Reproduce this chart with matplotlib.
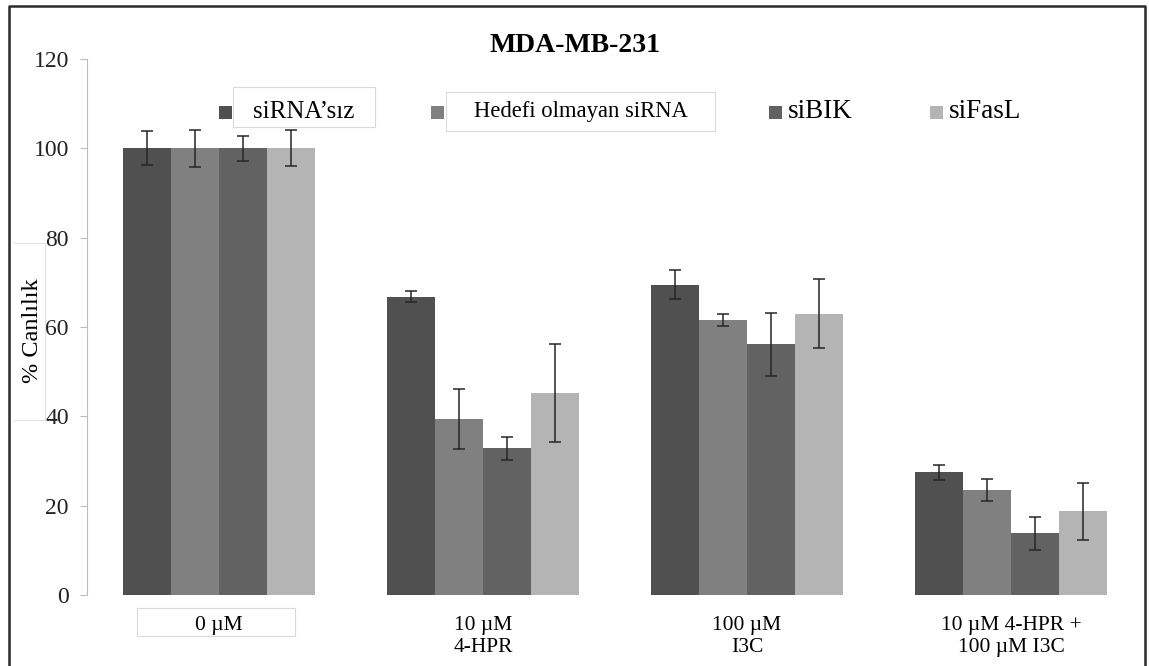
import numpy as np
import matplotlib.pyplot as plt
from matplotlib.patches import Rectangle

plt.rcParams['font.family'] = ['Liberation Serif', 'DejaVu Serif']

# data
groups = ['0 \u00b5M', '10 \u00b5M\n4-HPR', '100 \u00b5M\nI3C', '10 \u00b5M 4-HPR +\n100 \u00b5M I3C']
series = ['siRNA\u2019s\u0131z', 'Hedefi olmayan siRNA', 'siBIK', 'siFasL']
no_sirna = [100, 66.8, 69.5, 27.5]
nontarget = [100, 39.4, 61.6, 23.5]
sibik = [100, 32.8, 56.1, 13.8]
sifasl = [100, 45.2, 63.0, 18.7]
no_sirna_err = [3.8, 1.3, 3.3, 1.7]
nontarget_err = [4.2, 6.7, 1.4, 2.4]
sibik_err = [2.8, 2.6, 7.0, 3.7]
sifasl_err = [4.0, 10.9, 7.8, 6.4]

colors = ['#505050', '#808080', '#626262', '#b4b4b4']
W, H = 1149, 666


def px(x, y):
    # figure pixel (from top-left) -> figure fraction
    return x / W, 1 - y / H


fig = plt.figure(figsize=(W / 100, H / 100), dpi=100)
ax = fig.add_axes([87 / W, 1 - 595 / H, (1143 - 87) / W, 536 / H])
ax.patch.set_visible(False)

values = [no_sirna, nontarget, sibik, sifasl]
errors = [no_sirna_err, nontarget_err, sibik_err, sifasl_err]
x = np.arange(len(groups))
bw = 0.182
for i in range(4):
    ax.bar(x + (i - 1.5) * bw, values[i], bw, color=colors[i], zorder=2)
    ax.errorbar(x + (i - 1.5) * bw, values[i], yerr=errors[i], fmt='none',
                ecolor='#262626', elinewidth=1.1, capsize=4.5, capthick=1.1, zorder=3)

ax.set_xlim(-0.5, 3.5)
ax.set_ylim(0, 120)
ax.set_yticks(np.arange(0, 121, 20))
ax.set_xticks(x)
ax.set_xticklabels(groups, fontsize=15.5, linespacing=1.25)
ax.tick_params(axis='x', length=0, pad=15)
ax.tick_params(axis='y', labelsize=17, length=5, pad=8, colors='#222222')
ax.tick_params(axis='y', color='#bdbdbd')
for s in ['top', 'right', 'bottom']:
    ax.spines[s].set_visible(False)
ax.spines['left'].set_color('#bdbdbd')

fig.text(*px(575, 45), 'MDA-MB-231', fontsize=20, fontweight='bold', ha='center', va='center')
fig.text(*px(33, 331), '% Canl\u0131l\u0131k', fontsize=17.5, rotation=90, ha='center', va='center')


# stray boxes seen in the reference
def box(x0, y0, x1, y1):
    fig.patches.append(Rectangle(px(x0, y1), (x1 - x0) / W, (y1 - y0) / H,
                                 transform=fig.transFigure, facecolor='white',
                                 edgecolor='#d9d9d9', linewidth=0.8, zorder=-1))


box(233, 87, 375, 127)
box(446, 92, 715, 131)
box(137, 608, 295, 636)
fig.add_artist(plt.Line2D([14 / W, 45 / W, 45 / W, 14 / W],
                          [1 - 243 / H, 1 - 243 / H, 1 - 420 / H, 1 - 420 / H],
                          transform=fig.transFigure, color='#e0e0e0', linewidth=0.8))

# legend
marker_x = [226, 438, 776, 937]
text_x = [253, 474, 788, 949]
sizes = [18, 16.3, 19.5, 19.5]
for i in range(4):
    mx, my = px(marker_x[i] - 7, 119)
    fig.patches.append(Rectangle((mx, my), 13 / W, 13 / H, transform=fig.transFigure,
                                 facecolor=colors[i], edgecolor='none', zorder=3))
    fig.text(*px(text_x[i], 112), series[i], fontsize=sizes[i], ha='left', va='center', zorder=4)

# outer frame
fig.add_artist(plt.Line2D([9 / W, 9 / W, 1145 / W, 1145 / W],
                          [0, 1 - 6 / H, 1 - 6 / H, 0],
                          transform=fig.transFigure, color='#2a2a2a', linewidth=1.8))

fig.savefig('out.png', dpi=100)
